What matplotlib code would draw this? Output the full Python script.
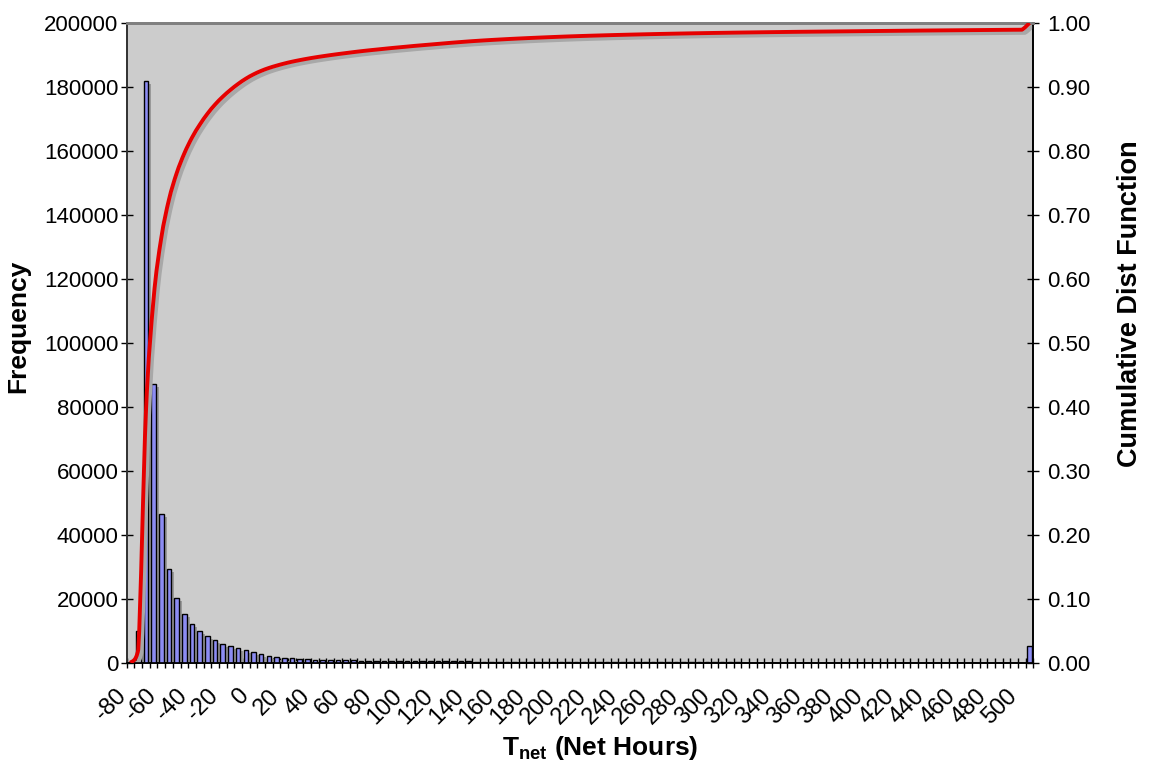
import matplotlib.pyplot as plt
import matplotlib.transforms as mtransforms
from matplotlib.path import Path
from matplotlib.patches import PathPatch
import numpy as np

plt.rcParams['font.family'] = ['Liberation Sans', 'DejaVu Sans']
plt.rcParams['mathtext.fontset'] = 'custom'
plt.rcParams['mathtext.rm'] = 'Liberation Sans'
plt.rcParams['mathtext.bf'] = 'Liberation Sans:bold'

# histogram bins (net hours, 5 h wide), last one is the overflow bin
bins = [str(v) for v in range(-80, 510, 5)]

freq = [0, 10000, 182000, 87000, 46500, 29300, 20200, 15200, 12100, 9800,
        8400, 7100, 6000, 5200, 4600, 4000, 3300, 2700, 2200, 1800,
        1600, 1400, 1200, 1100, 1000, 900, 850, 800, 750, 750,
        700, 650, 600,
        600, 600, 550, 550, 550, 500, 500, 500, 500, 500, 450, 450,
        400, 380, 350, 330, 320, 300, 280, 270, 260, 250, 240, 230, 220,
        200, 190, 180, 170, 170, 160, 150, 150, 140, 140, 130, 130, 120, 120, 110, 110, 100,
        100, 100, 90, 90, 90, 80, 80, 80, 80, 70, 70, 70, 70, 60,
        60, 60, 60, 60, 60, 60, 60, 60, 60, 60, 60, 60, 60, 60, 60,
        50, 50, 50, 50, 50, 50, 50, 50, 50, 50, 50, 50, 50,
        5100]

freq = np.array(freq)
cdf = np.cumsum(freq) / freq.sum()
x = np.arange(len(bins))


def smooth_path(xs, ys):
    # excel style smoothed line: catmull-rom segments as cubic beziers,
    # control points kept between the segment ends so it doesn't overshoot
    pts = np.column_stack([xs, ys]).astype(float)
    ext = np.vstack([pts[0], pts, pts[-1]])
    verts = [pts[0]]
    codes = [Path.MOVETO]
    for i in range(1, len(ext) - 2):
        p0, p1, p2, p3 = ext[i - 1], ext[i], ext[i + 1], ext[i + 2]
        c1 = p1 + (p2 - p0) / 6
        c2 = p2 - (p3 - p1) / 6
        lo, hi = min(p1[1], p2[1]), max(p1[1], p2[1])
        c1[1] = np.clip(c1[1], lo, hi)
        c2[1] = np.clip(c2[1], lo, hi)
        verts += [c1, c2, p2]
        codes += [Path.CURVE4] * 3
    return Path(verts, codes)


fig = plt.figure(figsize=(11.52, 7.68), dpi=100)
ax = fig.add_axes([0.110, 0.137, 0.787, 0.833])
ax.set_facecolor('#cccccc')

shadow = mtransforms.ScaledTranslation(3 / 100, -3 / 100, fig.dpi_scale_trans)
ax.bar(x, freq, width=0.6, color='#999999', edgecolor='none',
       transform=ax.transData + shadow, zorder=2)
ax.bar(x, freq, width=0.6, color='#8c8cf2', edgecolor='black', linewidth=1, zorder=3)

ax.set_xlim(-0.5, len(bins) - 0.5)
ax.set_ylim(0, 200000)
ax.set_yticks(np.arange(0, 200001, 20000))
ax.set_yticklabels([str(v) for v in range(0, 200001, 20000)])
ax.set_xticks(x[::4])
ax.set_xticklabels(bins[::4], rotation=45, ha='right', va='top', rotation_mode='anchor')
ax.set_xticks(np.arange(-0.5, len(bins), 1), minor=True)
ax.tick_params(axis='x', which='major', length=0, pad=16, labelsize=17)
ax.tick_params(axis='x', which='minor', direction='inout', length=7, width=1)
ax.tick_params(axis='y', direction='inout', length=8, width=1, labelsize=16, pad=2)
lab_shift = mtransforms.ScaledTranslation(-16 / 100, 0, fig.dpi_scale_trans)
for t in ax.get_xticklabels():
    t.set_transform(t.get_transform() + lab_shift)

ax2 = ax.twinx()
p = smooth_path(x, cdf)
ax2.add_patch(PathPatch(p, facecolor='none', edgecolor='#a8a8a8', lw=3,
                        transform=ax2.transData + shadow, zorder=2))
ax2.add_patch(PathPatch(p, facecolor='none', edgecolor='#e60000', lw=2.8, zorder=3))
ax2.set_ylim(0, 1)
ax2.set_yticks(np.arange(0, 1.01, 0.1))
ax2.set_yticklabels([f'{v:.2f}' for v in np.arange(0, 1.01, 0.1)])
ax2.tick_params(axis='y', direction='inout', length=8, width=1, labelsize=16, pad=6)

for a in (ax, ax2):
    a.spines['top'].set_color('#808080')
    a.spines['top'].set_linewidth(2)
    a.spines['left'].set_color('#303030')
    a.spines['right'].set_color('black')
    a.spines['bottom'].set_color('black')
    a.spines['left'].set_linewidth(1.2)
    a.spines['right'].set_linewidth(1.2)
    a.spines['bottom'].set_linewidth(1.2)

ax.set_ylabel('Frequency', fontsize=19, fontweight='bold', labelpad=10)
ax.yaxis.label.set_y(0.526)
ax2.set_ylabel('Cumulative Dist Function', fontsize=19.5, fontweight='bold', labelpad=19)
ax2.yaxis.label.set_y(0.562)
ax.set_xlabel(r'$\mathbf{T}_{\mathbf{net}}$ (Net Hours)', fontsize=19, fontweight='bold', labelpad=4)
ax.xaxis.label.set_x(0.522)

plt.savefig('out.png', dpi=100)
